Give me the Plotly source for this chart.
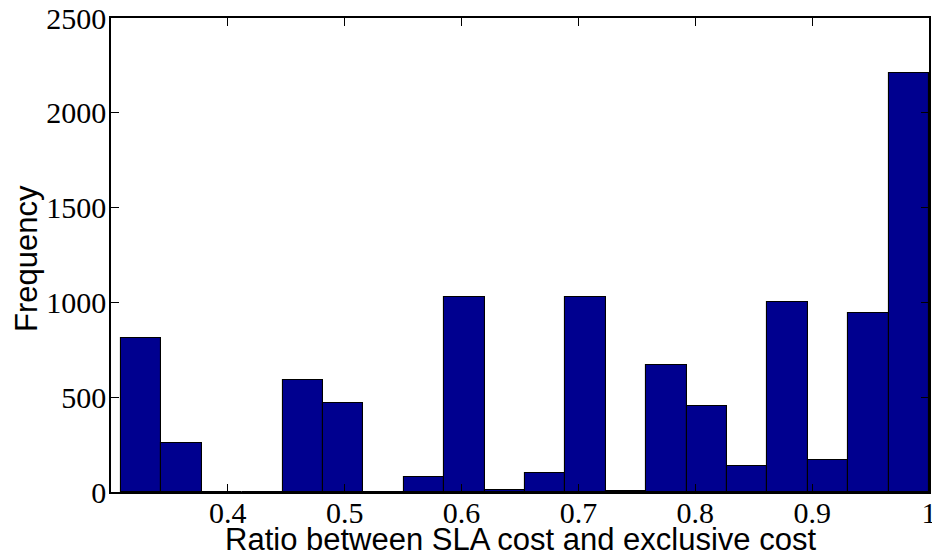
import numpy as np
import plotly.graph_objects as go

# Histogram data (20 bins)
bin_start = 0.3086
bin_end = 1.0
counts = [810, 256, 0, 0, 593, 470, 0, 81, 1026, 12,
          102, 1030, 7, 670, 455, 135, 1002, 170, 944, 2209]

x_ticks = [0.4, 0.5, 0.6, 0.7, 0.8, 0.9, 1.0]
x_tick_labels = ["0.4", "0.5", "0.6", "0.7", "0.8", "0.9", "1"]
y_ticks = [0, 500, 1000, 1500, 2000, 2500]
y_tick_labels = ["0", "500", "1000", "1500", "2000", "2500"]

x_title = "Ratio between SLA cost and exclusive cost"
y_title = "Frequency"

edges = np.linspace(bin_start, bin_end, len(counts) + 1)
centers = (edges[:-1] + edges[1:]) / 2
widths = np.diff(edges)

fig = go.Figure()
fig.add_trace(go.Bar(
    x=centers, y=counts, width=widths,
    marker=dict(color="rgb(0,0,143)", line=dict(color="black", width=1.1)),
    showlegend=False,
))

tick_font = dict(family="Liberation Serif", size=30, color="black")
title_font = dict(family="Liberation Sans", size=31, color="black")

fig.update_layout(
    width=932, height=555,
    margin=dict(l=111, r=3, t=18, b=63, autoexpand=False),
    paper_bgcolor="white", plot_bgcolor="white",
    bargap=0,
)
fig.update_xaxes(
    range=[0.3, 1.0], tickvals=x_ticks, ticktext=x_tick_labels,
    ticks="inside", ticklen=8, tickcolor="black", tickwidth=1,
    showline=True, linecolor="black", linewidth=1.6, mirror="ticks",
    showgrid=False, zeroline=False, tickfont=tick_font, automargin=False,
    ticklabeloverflow="allow", ticklabelstandoff=-7,
)
fig.update_yaxes(
    range=[0, 2500], tickvals=y_ticks, ticktext=y_tick_labels,
    ticks="inside", ticklen=8, tickcolor="black", tickwidth=1,
    showline=True, linecolor="black", linewidth=1.6, mirror="ticks",
    showgrid=False, zeroline=False, tickfont=tick_font, automargin=False,
    ticklabeloverflow="allow", ticklabelstandoff=-3,
)

fig.add_annotation(
    text=x_title, font=title_font, showarrow=False,
    xref="paper", yref="paper", x=0.5, y=-0.101,
    xanchor="center", yanchor="middle",
)
fig.add_annotation(
    text=y_title, font=title_font, showarrow=False, textangle=-90,
    xref="paper", yref="paper", x=-0.1027, y=0.4937,
    xanchor="center", yanchor="middle",
)

fig.write_html(
    "out.html",
    config={"displayModeBar": False},
    post_script="document.body.style.margin='0';document.body.style.overflow='hidden';",
)
